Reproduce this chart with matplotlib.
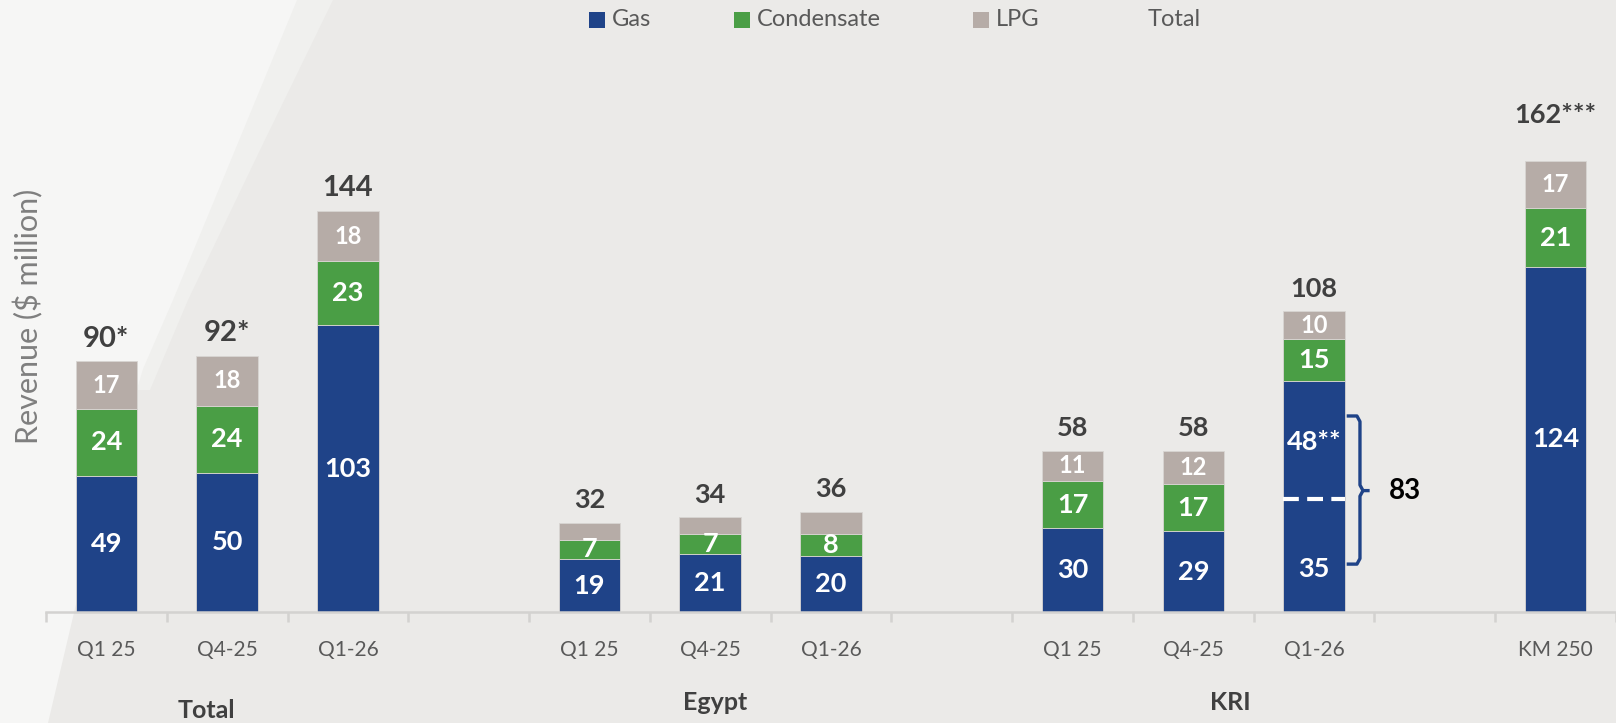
import matplotlib
matplotlib.use("Agg")
import matplotlib.pyplot as plt
import matplotlib.transforms as mtransforms
from matplotlib.patches import Polygon, Rectangle

# ---- data ----
tick_labels = ["Q1 25", "Q4-25", "Q1-26", "",
               "Q1 25", "Q4-25", "Q1-26", "",
               "Q1 25", "Q4-25", "Q1-26", "",
               "KM 250"]
bar_slots = [0, 1, 2, 4, 5, 6, 8, 9, 10, 12]
gas = [49, 50, 103, 19, 21, 20, 30, 29, 83, 124]
condensate = [24, 24, 23, 7, 7, 8, 17, 17, 15, 21]
lpg = [17, 18, 18, 6, 6, 8, 11, 12, 10, 17]
gas_labels = ["49", "50", "103", "19", "21", "20", "30", "29", "", "124"]
cond_labels = ["24", "24", "23", "7", "7", "8", "17", "17", "15", "21"]
lpg_labels = ["17", "18", "18", "", "", "", "11", "12", "10", "17"]
total_labels = ["90*", "92*", "144", "32", "34", "36", "58", "58", "108", "162***"]
kri_gas_split = [35, 48]          # KRI Q1-26 gas: 35 + 48** = 83
kri_gas_split_labels = ["35", "48**"]
groups = ["Total", "Egypt", "KRI"]
group_x = [0.83, 5.04, 9.31]

GAS = "#1f4388"
COND = "#4a9e45"
LPG = "#b6aca7"
BG = "#ebeae8"

W, H = 1616, 723
fig = plt.figure(figsize=(W / 100, H / 100), dpi=100, facecolor=BG)

# whitish swoosh on the left
def px(pts):
    return [(x / W, 1 - y / H) for x, y in pts]

band = [(0, 0), (333, 0), (260, 150), (188, 300), (150, 390), (0, 390)]
fig.patches.append(Polygon(px(band), closed=True, transform=fig.transFigure,
                           facecolor="#f0f0ee", edgecolor="none", zorder=-2))
swoosh = [(0, 0), (297, 0), (221, 184), (173, 300), (143, 369), (110, 480),
          (77, 600), (48, 723), (0, 723)]
fig.patches.append(Polygon(px(swoosh), closed=True, transform=fig.transFigure,
                           facecolor="#f6f6f5", edgecolor="none", zorder=-1))

ax = fig.add_axes([46 / W, 111 / H, 1570 / W, 612 / H])
ax.patch.set_visible(False)
ax.set_xlim(-0.5, 12.38)
ax.set_ylim(0, 219.8)

bw = 0.51
bottoms2 = [g + c for g, c in zip(gas, condensate)]
ec = dict(edgecolor="#d8d5d2", linewidth=0.6)
ax.bar(bar_slots, gas, width=bw, color=GAS, zorder=2, **ec)
ax.bar(bar_slots, condensate, width=bw, bottom=gas, color=COND, zorder=2, **ec)
ax.bar(bar_slots, lpg, width=bw, bottom=bottoms2, color=LPG, zorder=2, **ec)

lab = dict(ha="center", va="center", color="white", fontweight="bold",
           family="Lato", fontsize=19.5, zorder=4)
for i, x in enumerate(bar_slots):
    if gas_labels[i]:
        ax.text(x, gas[i] / 2, gas_labels[i], **lab)
    ax.text(x, gas[i] + condensate[i] / 2, cond_labels[i], **lab)
    if lpg_labels[i]:
        ax.text(x, bottoms2[i] + lpg[i] / 2, lpg_labels[i], **{**lab, "fontsize": 17})
    top = bottoms2[i] + lpg[i]
    off = 27 if total_labels[i].endswith("***") else 10.5
    size = 21 if i < 3 else 19.5
    ax.annotate(total_labels[i], (x, top), xytext=(0, off), textcoords="offset points",
                ha="center", va="baseline", color="#404040", fontweight="bold",
                family="Lato", fontsize=size, zorder=4)

# KRI Q1-26 gas split
kx = bar_slots[8]
ax.text(kx, kri_gas_split[0] / 2 - 2, kri_gas_split_labels[0], **lab)
ax.text(kx, kri_gas_split[0] + kri_gas_split[1] / 2 + 2, kri_gas_split_labels[1], **lab)
ax.plot([kx - bw / 2, kx + bw / 2], [40.6, 40.6], color="white", lw=3,
        dashes=(3.8, 2.0), zorder=3)
bx0, bx1, bxt = kx + 0.27, kx + 0.38, kx + 0.46
ylo, yhi, ymid = 17.2, 70.4, 43.6
ax.plot([bx0, bx1 - 0.025, bx1, bx1, bx1 + 0.025, bxt],
        [yhi, yhi, yhi - 2, ymid + 2, ymid, ymid],
        color=GAS, lw=2.4, solid_capstyle="butt", solid_joinstyle="round", zorder=3)
ax.plot([bx0, bx1 - 0.025, bx1, bx1, bx1 + 0.025], [ylo, ylo, ylo + 2, ymid - 2, ymid],
        color=GAS, lw=2.4, solid_capstyle="butt", solid_joinstyle="round", zorder=3)
ax.text(kx + 0.75, ymid, str(sum(kri_gas_split)), ha="center", va="center",
        color="black", fontweight="bold", family="Lato", fontsize=20)

# axes styling
for s in ["top", "right", "left"]:
    ax.spines[s].set_visible(False)
ax.spines["bottom"].set_color("#d3d2d0")
ax.spines["bottom"].set_linewidth(1.8)
ax.set_yticks([])
ax.set_xticks(range(len(tick_labels)))
ax.set_xticklabels(tick_labels, family="Lato", fontsize=15, color="#595959")
ax.tick_params(axis="x", which="major", length=0, pad=20)
ax.set_xticks([k - 0.5 for k in range(len(tick_labels) + 1)], minor=True)
ax.tick_params(axis="x", which="minor", length=7, width=1.8, color="#d3d2d0")

grp_tr = mtransforms.blended_transform_factory(ax.transData, fig.transFigure)
for g, gx, gy in zip(groups, group_x, [711, 703, 703]):
    ax.text(gx, 1 - gy / H, g, transform=grp_tr, ha="center", va="center",
            fontweight="bold", family="Lato", fontsize=18, color="#404040")

fig.text(28 / W, 1 - 316 / H, "Revenue ($ million)", rotation=90, ha="center", va="center",
         family="Lato", fontsize=22, color="#7f7f7f")

# legend
leg_items = [("Gas", GAS, 589), ("Condensate", COND, 734), ("LPG", LPG, 973), ("Total", None, 1125)]
for name, col, x0 in leg_items:
    if col:
        fig.patches.append(Rectangle((x0 / W, 1 - 28 / H), 16 / W, 16 / H,
                                     transform=fig.transFigure, facecolor=col, edgecolor="none"))
    fig.text((x0 + 23) / W, 1 - 20 / H, name, ha="left", va="center",
             family="Lato", fontsize=17, color="#595959")

fig.savefig("out.png", dpi=100, facecolor=BG)
